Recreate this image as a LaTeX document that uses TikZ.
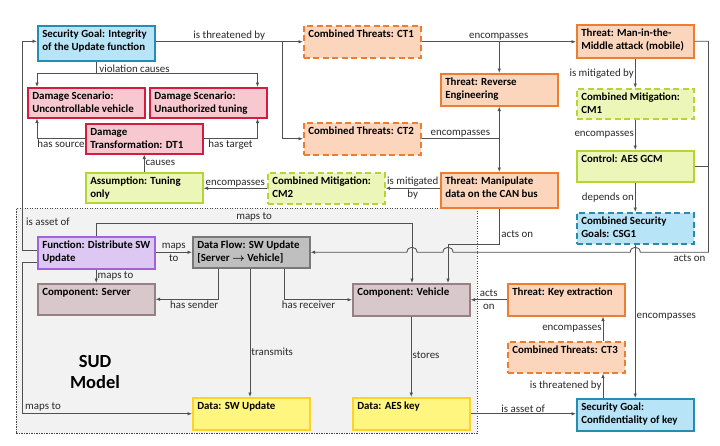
\documentclass[tikz,border=0pt]{standalone}
\usepackage{fontspec}
\setmainfont{Carlito}
\usetikzlibrary{calc,arrows.meta}
\definecolor{sgf}{RGB}{183,228,247}\definecolor{sgd}{RGB}{38,140,178}
\definecolor{dsf}{RGB}{248,200,208}\definecolor{dsd}{RGB}{214,28,62}
\definecolor{thf}{RGB}{251,214,189}\definecolor{thd}{RGB}{237,125,49}
\definecolor{mif}{RGB}{236,246,184}\definecolor{mid}{RGB}{181,212,53}
\definecolor{fnf}{RGB}{220,200,242}\definecolor{fnd}{RGB}{160,100,215}
\definecolor{dff}{RGB}{191,191,191}\definecolor{dfd}{RGB}{120,120,120}
\definecolor{cof}{RGB}{216,200,203}\definecolor{cod}{RGB}{150,128,133}
\definecolor{daf}{RGB}{255,246,128}\definecolor{dad}{RGB}{255,210,40}
\definecolor{sudf}{RGB}{242,242,242}\definecolor{sudd}{RGB}{70,70,70}
\definecolor{lc}{RGB}{80,80,80}\definecolor{lt}{RGB}{40,40,40}
\newcommand{\fs}{\fontsize{10.9}{13}\selectfont}
\newcommand{\mknode}[5]{\node[#4, minimum height=#3pt] (#1) at (#2) {\parbox[c][\dimexpr#3pt-6pt\relax][t]{108pt}{\raggedright\strut #5}};}
\tikzset{
 nbase/.style={anchor=north west, inner sep=0pt, minimum width=117pt, line width=1.5pt, font=\fs\bfseries},
 nsg/.style={nbase, draw=sgd, fill=sgf},
 nsgc/.style={nsg, dash pattern=on 6pt off 3.5pt},
 nds/.style={nbase, draw=dsd, fill=dsf},
 nth/.style={nbase, draw=thd, fill=thf},
 nct/.style={nth, dash pattern=on 6pt off 3.5pt},
 nmi/.style={nbase, draw=mid, fill=mif},
 ncm/.style={nmi, dash pattern=on 6pt off 3.5pt},
 nfn/.style={nbase, draw=fnd, fill=fnf},
 ndf/.style={nbase, draw=dfd, fill=dff},
 nco/.style={nbase, draw=cod, fill=cof},
 nda/.style={nbase, draw=dad, fill=daf},
 conn/.style={draw=lc, line width=0.85pt},
 arr/.style={conn, -{Latex[length=4.5pt,width=3.6pt]}},
 lbl/.style={inner sep=1pt, text=lt, font=\fs},
 sudbox/.style={draw=sudd, fill=sudf, line width=0.8pt, dash pattern=on 1.2pt off 1.3pt, anchor=north west, inner sep=0pt},
}
\begin{document}
\begin{tikzpicture}[x=1pt,y=-1pt]
\useasboundingbox (0,0) rectangle (720,445);
\node[sudbox, minimum width=461pt, minimum height=225pt] (SUD) at (16,208) {};
\node[font=\fontsize{18.5}{21}\selectfont\bfseries, align=center, text=black] (SUDt) at (95,372) {SUD\\Model};

\mknode{SG1}{37,25}{35}{nsg}{Security Goal: Integrity\\of the Update function}
\mknode{DSa}{27,87}{30}{nds}{Damage Scenario:\\Uncontrollable vehicle}
\mknode{DSb}{149,87}{30}{nds}{Damage Scenario:\\Unauthorized tuning}
\mknode{DT}{85,123}{30}{nds}{Damage\\Transformation: DT1}
\mknode{AS}{85,172}{30}{nmi}{Assumption: Tuning\\only}
\mknode{CMb}{267,172}{31}{ncm}{Combined Mitigation:\\CM2}
\mknode{CAN}{440,172}{35}{nth}{Threat: Manipulate\\data on the CAN bus}
\mknode{CTa}{303,25}{32}{nct}{Combined Threats: CT1}
\mknode{CTb}{303,122}{32}{nct}{Combined Threats: CT2}
\mknode{RE}{440,73}{32}{nth}{Threat: Reverse\\Engineering}
\mknode{MitM}{576,24}{33}{nth}{Threat: Man-in-the-\\Middle attack (mobile)}
\mknode{CMa}{576,88}{30}{ncm}{Combined Mitigation:\\CM1}
\mknode{AES}{576,150}{31}{nmi}{Control: AES GCM}
\mknode{CSG}{576,212}{31}{nsgc}{Combined Security\\Goals: CSG1}
\mknode{Fn}{37,236}{32}{nfn}{Function: Distribute SW\\Update}
\mknode{DF}{192,236}{31}{ndf}{Data Flow: SW Update\\{[}Server {\boldmath$\rightarrow$} Vehicle{]}}
\mknode{Srv}{37,283}{31}{nco}{Component: Server}
\mknode{Veh}{352,283}{32}{nco}{Component: Vehicle}
\mknode{DSW}{192,397}{32}{nda}{Data: SW Update}
\mknode{Key}{352,397}{32}{nda}{Data: AES key}
\mknode{KE}{507,283}{32}{nth}{Threat: Key extraction}
\mknode{CTc}{507,341}{31}{nct}{Combined Threats: CT3}
\mknode{SGk}{576,398}{32}{nsg}{Security Goal:\\Confidentiality of key}

% is threatened by
\draw[arr] (SG1.east |- CTa.west) -- node[lbl, above]{is threatened by} (CTa.west);
\draw[arr] ($(CTa.west)+(-21,0)$) |- (CTb.west);
% violation causes
\coordinate (vc) at ($(SG1.south)+(0,12)$);
\draw[arr] (SG1.south) -- (vc) -| ($(DSa.north west)+(10,0)$);
\draw[arr] (vc) -| ($(DSb.north east)+(-10,0)$);
\node[lbl, anchor=south west] (lvc) at ($(vc)+(2,0)$) {violation causes};
% has source / has target
\draw[arr] (DT.west) -| node[lbl, below, pos=0.25]{has source} ($(DSa.south west)+(10,0)$);
\draw[arr] (DT.east) -| node[lbl, below, pos=0.25]{has target} ($(DSb.south east)+(-10,0)$);
% causes
\draw[arr] (AS.north) -- node[lbl, right]{causes} (DT.south);
% encompasses CM2 -> AS
\draw[arr] (CMb.west) -- node[lbl, above]{encompasses} (AS.east |- CMb.west);
% is mitigated by
\draw[arr] (CAN.west |- CMb.east) -- node[lbl, align=center]{is mitigated\\by} (CMb.east);
% CT1
\draw[arr] (CTa.east) -- node[lbl, above]{encompasses} (MitM.west |- CTa.east);
\draw[arr] (RE.north |- CTa.east) -- (RE.north);
% CT2
\draw[conn] (CTb.east) -- node[lbl, above]{encompasses} (RE.south |- CTb.east);
\draw[arr] (RE.south |- CTb.east) -- (RE.south);
\draw[arr] (RE.south |- CTb.east) -- (CAN.north);
% MitM chain
\draw[arr] (MitM.south) -- node[lbl, left]{is mitigated by} (CMa.north);
\draw[arr] (CMa.south) -- node[lbl, left]{encompasses} (AES.north);
\draw[arr] (AES.south) -- node[lbl, left]{depends on} (CSG.north);
\draw[arr] (CSG.south) -- node[lbl, right, pos=0.47]{encompasses} (SGk.north);
% acts on (MitM, AES -> DF)
\coordinate (R) at ($(MitM.east)+(14,0)$);
\coordinate (RB) at (R |- DF.east);
\coordinate (h1) at (CSG.south |- DF.east);
\coordinate (mv) at ($(Veh.north west)+(60,0)$);
\coordinate (av) at ($(Veh.north west)+(96,0)$);
\coordinate (h2) at (av |- DF.east);
\coordinate (h3) at (mv |- DF.east);
\draw[arr] (MitM.east) -- (R) -- (RB) -- ($(h1)+(5,0)$) .. controls +(0,-6.6) and +(0,-6.6) .. ($(h1)+(-5,0)$) -- ($(h2)+(5,0)$) .. controls +(0,-6.6) and +(0,-6.6) .. ($(h2)+(-5,0)$) -- ($(h3)+(5,0)$) .. controls +(0,-6.6) and +(0,-6.6) .. ($(h3)+(-5,0)$) -- (DF.east);
\draw[conn] (AES.east) -- (AES.east -| R);
\node[lbl, anchor=north east] (lao) at ($(RB)+(-2,1)$) {acts on};
% maps to Fn -> Veh
\draw[arr] (Fn.north) -- ++(0,-13) -| node[lbl, above, pos=0.25]{maps to} (mv);
% acts on CAN -> Veh
\draw[arr] (CAN.south) -- ++(0,36) -| (av);
\node[lbl, anchor=west] (lao2) at ($(CAN.south)+(1,26)$) {acts on};
% Fn -> DF
\draw[arr] (Fn.east |- DF.west) -- node[lbl, align=center]{maps\\to} (DF.west);
% Fn -> Srv
\draw[arr] (Fn.south) -- node[lbl, right]{maps to} (Srv.north);
% DF -> Srv / Veh / DSW
\draw[arr] ($(DF.south west)+(26,0)$) |- node[lbl, below, pos=0.69]{has sender} (Srv.east);
\draw[arr] ($(DF.south west)+(92,0)$) |- node[lbl, below, pos=0.68]{has receiver} (Veh.west);
\draw[arr] ($(DF.south west)+(58,0)$) -- node[lbl, right, pos=0.65]{transmits} ($(DSW.north west)+(58,0)$);
% stores
\draw[arr] (Veh.south) -- node[lbl, right, pos=0.48]{stores} (Key.north);
% KE -> Veh
\draw[arr] (KE.west) -- node[lbl, align=center]{acts\\on} (Veh.east);
% CT3 -> KE
\draw[arr] ($(CTc.north west)+(96,0)$) -- node[lbl, left]{encompasses} ($(KE.south west)+(96,0)$);
% SGk -> CT3
\draw[arr] ($(SGk.north west)+(27,0)$) -- node[lbl, left]{is threatened by} ($(CTc.south west)+(96,0)$);
% Key -> SGk
\draw[arr] (Key.east) -- node[lbl, above]{is asset of} (SGk.west |- Key.east);
% Fn -> SG1
\draw[arr] ($(Fn.west)+(0,-2)$) -- ++(-15,0) |- ($(SG1.west)+(0,-2)$);
\node[lbl, anchor=west] (lia) at ($(Fn.north west)+(-12,-14)$) {is asset of};
% Fn -> DSW
\draw[arr] ($(Fn.west)+(0,10)$) -- ++(-15,0) |- (DSW.west);
\node[lbl, anchor=south west] (lmt) at ($(DSW.west)+(-168,-1)$) {maps to};
\end{tikzpicture}
\end{document}
